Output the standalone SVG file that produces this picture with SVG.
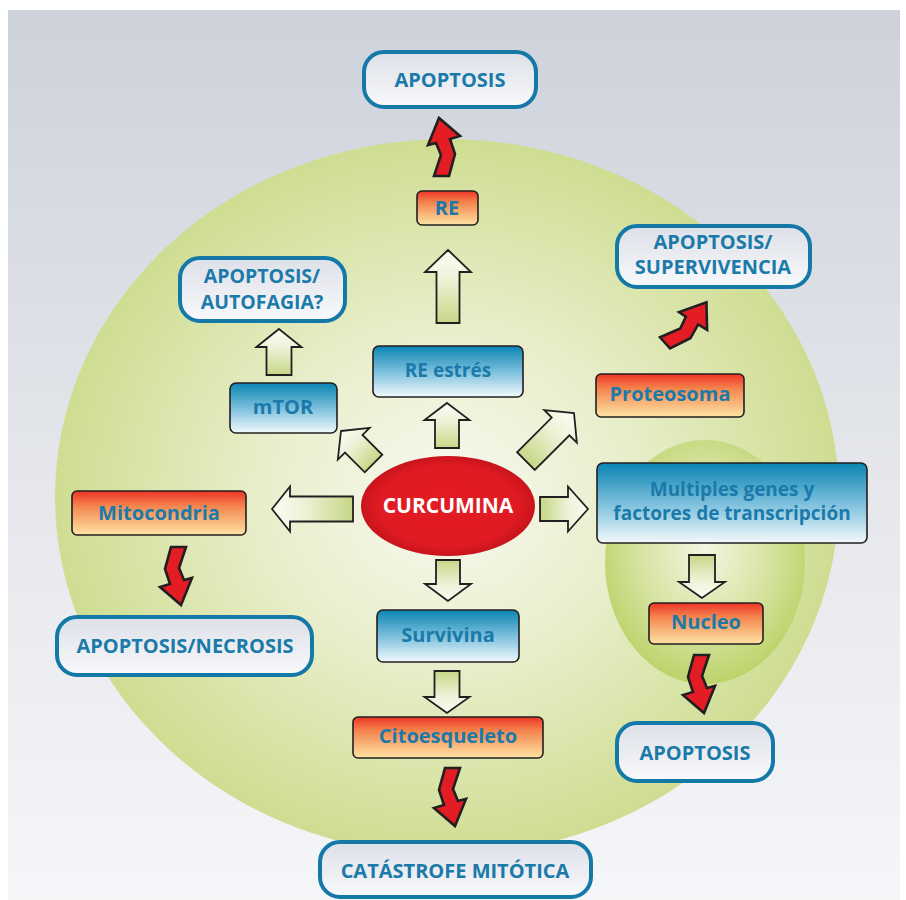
<svg xmlns="http://www.w3.org/2000/svg" width="906" height="900" viewBox="0 0 906 900">
<defs>
<linearGradient id="bg" x1="0" y1="0" x2="0" y2="1">
<stop offset="0" stop-color="#cdd2db"/><stop offset="0.5" stop-color="#e4e6eb"/><stop offset="1" stop-color="#f5f6f8"/>
</linearGradient>
<radialGradient id="cell" cx="0.5" cy="0.5" r="0.5">
<stop offset="0" stop-color="#f8f9f0"/><stop offset="0.45" stop-color="#e9efcd"/><stop offset="1" stop-color="#cfdd92"/>
</radialGradient>
<radialGradient id="nuc" cx="0.5" cy="0.45" r="0.55">
<stop offset="0" stop-color="#f3f6e2"/><stop offset="0.6" stop-color="#d6e3a0"/><stop offset="1" stop-color="#bcd36a"/>
</radialGradient>
<radialGradient id="curc" cx="0.5" cy="0.5" r="0.5">
<stop offset="0" stop-color="#e31b23"/><stop offset="0.8" stop-color="#e01a23"/><stop offset="1" stop-color="#c8141c"/>
</radialGradient>
<linearGradient id="blue" x1="0" y1="0" x2="0" y2="1">
<stop offset="0" stop-color="#0a84b2"/><stop offset="0.5" stop-color="#7bbfdc"/><stop offset="1" stop-color="#f2f9fc"/>
</linearGradient>
<linearGradient id="orange" x1="0" y1="0" x2="0" y2="1">
<stop offset="0" stop-color="#ee3426"/><stop offset="0.35" stop-color="#f4874f"/><stop offset="1" stop-color="#fee3a4"/>
</linearGradient>
<linearGradient id="outc" x1="0" y1="0" x2="0" y2="1">
<stop offset="0" stop-color="#dde0e8"/><stop offset="1" stop-color="#f8f9fb"/>
</linearGradient>
<linearGradient id="blk" x1="0" y1="0" x2="0" y2="1">
<stop offset="0" stop-color="#fbfcf4"/><stop offset="0.4" stop-color="#eef2d8"/><stop offset="1" stop-color="#c6d786"/>
</linearGradient>
<style>
.t{font-family:"Open Sans","Noto Sans","Liberation Sans",sans-serif;font-weight:700;fill:#1a7aa9;text-anchor:middle}
.w{fill:#ffffff}
.bb{fill:url(#blue);stroke:#231f20;stroke-width:1.6}
.ob{fill:url(#orange);stroke:#231f20;stroke-width:1.6}
.oc{fill:url(#outc);stroke:#1479a7;stroke-width:4}
.ba{fill:url(#blk);stroke:#231f20;stroke-width:1.8;stroke-linejoin:miter}
.zz{fill:#e41c24;stroke:#231f20;stroke-width:2.6;stroke-linejoin:miter}
</style>
<path id="zig" d="M-6,0 L9,0 L2,21 L7,33 L15,31 L4,58 L-17,40 L-7,37 L-12,22 Z"/>
</defs>

<rect x="8" y="10" width="892" height="890" fill="url(#bg)"/>
<ellipse cx="447" cy="497" rx="392" ry="358" fill="url(#cell)"/>
<ellipse cx="705" cy="562" rx="100" ry="122" fill="url(#nuc)"/>

<g id="connectors">
<path class="ba" transform="translate(448,250)" d="M0,0 L23,22 L11.5,22 L11.5,73 L-11.5,73 L-11.5,22 L-23,22 Z"/>
<path class="ba" transform="translate(279,329)" d="M0,0 L22.5,18 L12.5,18 L12.5,46 L-12.5,46 L-12.5,18 L-22.5,18 Z"/>
<path class="ba" transform="translate(447,403)" d="M0,0 L22.5,17 L12,17 L12,45 L-12,45 L-12,17 L-22.5,17 Z"/>
<path class="ba" transform="translate(341,431) rotate(-45)" d="M0,0 L22.5,18 L12.4,18 L12.4,46 L-12.4,46 L-12.4,18 L-22.5,18 Z"/>
<path class="ba" transform="translate(574,413) rotate(45)" d="M0,0 L23,19 L12.5,19 L12.5,68 L-12.5,68 L-12.5,19 L-23,19 Z"/>
<path class="ba" transform="translate(272,509) rotate(-90)" d="M0,0 L22.5,18 L12.5,18 L12.5,81 L-12.5,81 L-12.5,18 L-22.5,18 Z"/>
<path class="ba" transform="translate(588,509) rotate(90)" d="M0,0 L22.5,20 L12,20 L12,48 L-12,48 L-12,20 L-22.5,20 Z"/>
<path class="ba" transform="translate(448,601) rotate(180)" d="M0,0 L23,17 L12,17 L12,41 L-12,41 L-12,17 L-23,17 Z"/>
<path class="ba" transform="translate(447,713) rotate(180)" d="M0,0 L22.5,16 L12.5,16 L12.5,42 L-12.5,42 L-12.5,16 L-22.5,16 Z"/>
<path class="ba" transform="translate(702,598) rotate(180)" d="M0,0 L23,16 L13,16 L13,43 L-13,43 L-13,16 L-23,16 Z"/>
<use href="#zig" class="zz" transform="translate(443,176) rotate(180)"/>
<use href="#zig" class="zz" transform="translate(666,344) rotate(-132)"/>
<use href="#zig" class="zz" transform="translate(177,547)"/>
<use href="#zig" class="zz" transform="translate(700,655)"/>
<use href="#zig" class="zz" transform="translate(451,768)"/>
</g>

<g id="apoptosis-top"><rect class="oc" x="364" y="52" width="172" height="55" rx="20"/><text class="t" x="450" y="87" font-size="20">APOPTOSIS</text></g>
<g id="re"><rect class="ob" x="417" y="191" width="61" height="34" rx="5"/><text class="t" x="447" y="215" font-size="20">RE</text></g>
<g id="apoptosis-autofagia"><rect class="oc" x="180" y="258" width="165" height="63" rx="20"/><text class="t" x="262" y="283" font-size="19.5">APOPTOSIS/</text><text class="t" x="262" y="309" font-size="19.5">AUTOFAGIA?</text></g>
<g id="apoptosis-supervivencia"><rect class="oc" x="617" y="226" width="193" height="61" rx="20"/><text class="t" x="713" y="249" font-size="20">APOPTOSIS/</text><text class="t" x="713" y="274" font-size="20">SUPERVIVENCIA</text></g>
<g id="re-estres"><rect class="bb" x="373" y="346" width="150" height="51" rx="6"/><text class="t" x="448" y="377" font-size="19">RE estrés</text></g>
<g id="mtor"><rect class="bb" x="230" y="383" width="107" height="50" rx="6"/><text class="t" x="283" y="414" font-size="20">mTOR</text></g>
<g id="proteosoma"><rect class="ob" x="596" y="374" width="148" height="43" rx="5"/><text class="t" x="670" y="401" font-size="20">Proteosoma</text></g>
<g id="curcumina"><ellipse cx="448" cy="506" rx="87" ry="50" fill="url(#curc)"/><text class="t w" x="448" y="513" font-size="21">CURCUMINA</text></g>
<g id="mitocondria"><rect class="ob" x="72" y="491" width="174" height="44" rx="5"/><text class="t" x="159" y="520" font-size="20">Mitocondria</text></g>
<g id="multiples-genes"><rect class="bb" x="597" y="463" width="270" height="80" rx="6"/><text class="t" x="732" y="496" font-size="19">Multiples genes y</text><text class="t" x="732" y="520" font-size="19">factores de transcripción</text></g>
<g id="survivina"><rect class="bb" x="377" y="610" width="142" height="52" rx="6"/><text class="t" x="448" y="642" font-size="20">Survivina</text></g>
<g id="nucleo"><rect class="ob" x="649" y="603" width="114" height="41" rx="5"/><text class="t" x="706" y="629" font-size="20">Nucleo</text></g>
<g id="apoptosis-necrosis"><rect class="oc" x="57" y="617" width="255" height="58" rx="20"/><text class="t" x="185" y="653" font-size="20">APOPTOSIS/NECROSIS</text></g>
<g id="citoesqueleto"><rect class="ob" x="353" y="717" width="190" height="41" rx="5"/><text class="t" x="448" y="743" font-size="20">Citoesqueleto</text></g>
<g id="apoptosis-nucleo"><rect class="oc" x="617" y="723" width="156" height="58" rx="20"/><text class="t" x="695" y="760" font-size="20">APOPTOSIS</text></g>
<g id="catastrofe"><rect class="oc" x="320" y="842" width="271" height="55" rx="20"/><text class="t" x="455" y="878" font-size="20">CATÁSTROFE MITÓTICA</text></g>
</svg>
